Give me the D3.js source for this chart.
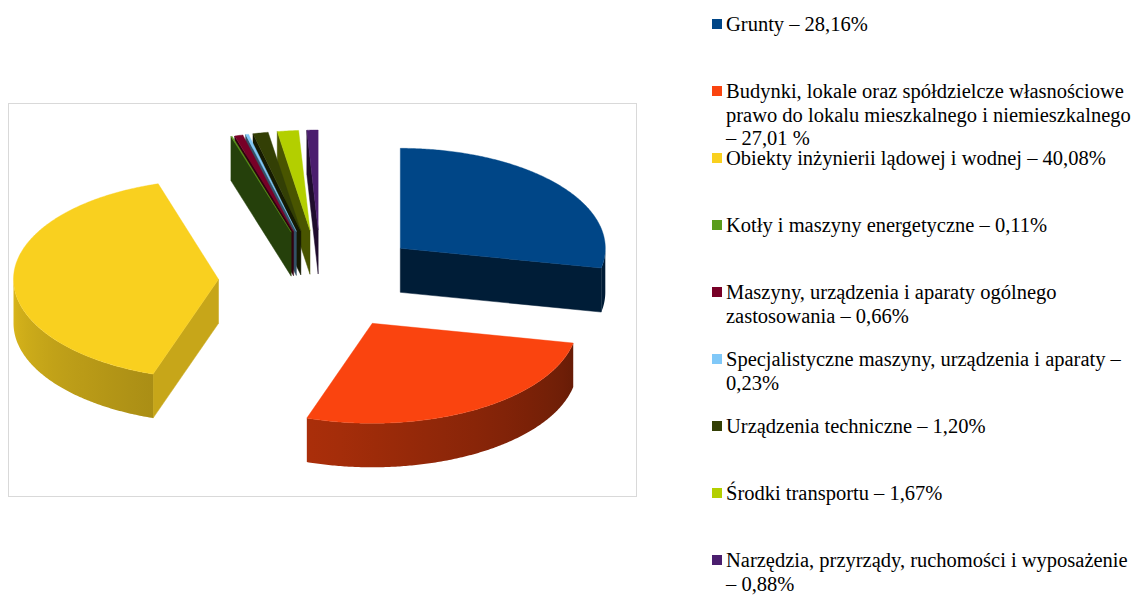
<!DOCTYPE html>
<html><head><meta charset="utf-8">
<script src="https://cdn.jsdelivr.net/npm/d3@7/dist/d3.min.js"></script>
<style>body{margin:0;background:#fff}svg{display:block}</style>
</head><body><svg id="c" width="1145" height="595"></svg>
<script>
// ---- data ----
const categories = [
  "Grunty",
  "Budynki, lokale oraz spółdzielcze własnościowe prawo do lokalu mieszkalnego i niemieszkalnego",
  "Obiekty inżynierii lądowej i wodnej",
  "Kotły i maszyny energetyczne",
  "Maszyny, urządzenia i aparaty ogólnego zastosowania",
  "Specjalistyczne maszyny, urządzenia i aparaty",
  "Urządzenia techniczne",
  "Środki transportu",
  "Narzędzia, przyrządy, ruchomości i wyposażenie"
];
const shares = [28.16, 27.01, 40.08, 0.11, 0.66, 0.23, 1.20, 1.67, 0.88];
const colors = ["#004687", "#fa440f", "#f9d01f", "#5a9c1c", "#780027", "#80c8f8", "#333f05", "#b3cf00", "#4b1e6e"];
const legendLines = [
  ["Grunty – 28,16%"],
  ["Budynki, lokale oraz spółdzielcze własnościowe", "prawo do lokalu mieszkalnego i niemieszkalnego", "– 27,01 %"],
  ["Obiekty inżynierii lądowej i wodnej – 40,08%"],
  ["Kotły i maszyny energetyczne – 0,11%"],
  ["Maszyny, urządzenia i aparaty ogólnego", "zastosowania – 0,66%"],
  ["Specjalistyczne maszyny, urządzenia i aparaty –", "0,23%"],
  ["Urządzenia techniczne – 1,20%"],
  ["Środki transportu – 1,67%"],
  ["Narzędzia, przyrządy, ruchomości i wyposażenie", "– 0,88%"]
];

// ---- layout ----
const svg = d3.select("#c");
const cx = 321, cy = 280, Rx = 205, Ry = 100, depth = 44, explode = 0.5;
const xs = d3.scaleLinear().domain([-1, 1]).range([cx - Rx, cx + Rx]);
const ys = d3.scaleLinear().domain([-1, 1]).range([cy + Ry, cy - Ry]);

svg.append("rect").attr("x", 8.5).attr("y", 103.5).attr("width", 628).attr("height", 393)
  .attr("fill", "#fff").attr("stroke", "#d9d9d9").attr("stroke-width", 1);

const defs = svg.append("defs");
const arcs = d3.pie().sort(null).value(d => d)(shares);

function shade(c, k) {
  const col = d3.rgb(c);
  return d3.rgb(col.r * k, col.g * k, col.b * k).formatHex();
}
function wallK(theta) { // theta in degrees (90..270)
  return Math.max(0.35, Math.min(0.9, 0.41 + 0.47 * (theta - 101) / 169));
}

const slices = arcs.map((a, i) => {
  const m = (a.startAngle + a.endAngle) / 2;
  const ou = explode * Math.sin(m), ov = explode * Math.cos(m);
  const P = t => [xs(ou + Math.sin(t)), ys(ov + Math.cos(t))];
  const apex = [xs(ou), ys(ov)];
  return {a, i, P, apex, color: colors[i]};
});
slices.sort((s, t) => s.apex[1] - t.apex[1]);

const line = d3.line();
function arcPts(P, t0, t1) {
  const n = Math.max(2, Math.ceil(Math.abs(t1 - t0) / 0.01));
  return d3.range(n + 1).map(j => P(t0 + (t1 - t0) * j / n));
}

slices.forEach(s => {
  const {a, P, apex, color, i} = s;
  const g = svg.append("g");
  const a0 = a.startAngle, a1 = a.endAngle;
  // radial start face
  if (Math.sin(a0) < -1e-6) {
    const p = P(a0);
    const k = (-Math.cos(a0)) > 0 ? 0.8 : 0.41;
    g.append("path").attr("d", line([apex, p, [p[0], p[1] + depth], [apex[0], apex[1] + depth]]) + "Z")
      .attr("fill", shade(color, k)).attr("stroke", shade(color, k)).attr("stroke-width", 0.5);
  }
  // radial end face
  if (Math.sin(a1) > 1e-6) {
    const p = P(a1);
    const k = Math.cos(a1) > 0 ? 0.8 : 0.41;
    g.append("path").attr("d", line([apex, p, [p[0], p[1] + depth], [apex[0], apex[1] + depth]]) + "Z")
      .attr("fill", shade(color, k)).attr("stroke", shade(color, k)).attr("stroke-width", 0.5);
  }
  // outer wall (front half)
  const w0 = Math.max(a0, Math.PI / 2), w1 = Math.min(a1, 3 * Math.PI / 2);
  if (w1 > w0) {
    const top = arcPts(P, w0, w1);
    const bot = top.slice().reverse().map(p => [p[0], p[1] + depth]);
    const xsPts = top.map(p => p[0]);
    const xmin = d3.min(xsPts), xmax = d3.max(xsPts);
    const gid = "wall" + i;
    const grad = defs.append("linearGradient").attr("id", gid)
      .attr("gradientUnits", "userSpaceOnUse")
      .attr("x1", xmin).attr("x2", xmax).attr("y1", 0).attr("y2", 0);
    const stops = d3.range(11).map(j => {
      const t = w0 + (w1 - w0) * j / 10;
      return {off: (P(t)[0] - xmin) / Math.max(1e-6, xmax - xmin), k: wallK(t * 180 / Math.PI)};
    }).sort((p, q) => p.off - q.off);
    stops.forEach(st => grad.append("stop").attr("offset", st.off).attr("stop-color", shade(color, st.k)));
    g.append("path").attr("d", line(top.concat(bot)) + "Z").attr("fill", `url(#${gid})`);
  }
  // top face
  const tp = [apex].concat(arcPts(P, a0, a1));
  g.append("path").attr("d", line(tp) + "Z").attr("fill", color)
    .attr("stroke", color).attr("stroke-width", 0.4);
});

// ---- legend ----
const ly = d3.scaleLinear().domain([0, legendLines.length - 1]).range([31, 567]);
const lg = svg.append("g").attr("font-family", "'Liberation Serif','Times New Roman',serif")
  .attr("font-size", 20.5).attr("fill", "#000");
legendLines.forEach((lines, i) => {
  const y = ly(i);
  lg.append("rect").attr("x", 712).attr("y", y - 12).attr("width", 10).attr("height", 10).attr("fill", colors[i]);
  const t = lg.append("text").attr("x", 726).attr("y", y);
  lines.forEach((l, j) => t.append("tspan").attr("x", 726).attr("dy", j === 0 ? 0 : 23.5).text(l));
});
</script></body></html>
